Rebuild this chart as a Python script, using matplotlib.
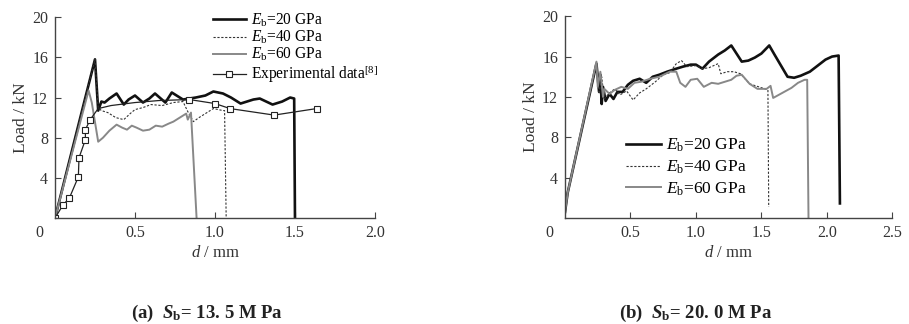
import matplotlib
matplotlib.use("Agg")
import matplotlib.pyplot as plt

plt.rcParams['font.family'] = ['Liberation Serif', 'DejaVu Serif']
plt.rcParams['mathtext.fontset'] = 'custom'
plt.rcParams['mathtext.rm'] = 'Liberation Serif'
plt.rcParams['mathtext.it'] = 'Liberation Serif:italic'
plt.rcParams['mathtext.bf'] = 'Liberation Serif:bold'
plt.rcParams['mathtext.bfit'] = 'Liberation Serif:italic:bold'

# (a) Sb = 13.5 MPa
x20a = [0, 0.25, 0.27, 0.29, 0.31, 0.34, 0.385, 0.43, 0.46, 0.5, 0.55, 0.59, 0.625, 0.69, 0.73,
        0.8, 0.88, 0.94, 0.99, 1.05, 1.1, 1.16, 1.2, 1.24, 1.28, 1.32, 1.36, 1.42, 1.47, 1.495, 1.5]
y20a = [0, 15.8, 10.7, 11.6, 11.5, 11.9, 12.4, 11.3, 11.8, 12.2, 11.5, 11.9, 12.4, 11.5, 12.5,
        11.8, 12.0, 12.2, 12.6, 12.4, 12.0, 11.4, 11.6, 11.8, 11.9, 11.6, 11.3, 11.6, 12.0, 11.9, 0]
x40a = [0, 0.25, 0.27, 0.29, 0.33, 0.38, 0.43, 0.47, 0.5, 0.55, 0.6, 0.67, 0.74, 0.8, 0.83,
        0.865, 0.9, 0.95, 0.99, 1.05, 1.06, 1.07]
y40a = [0, 15.8, 11.0, 10.7, 10.5, 10.0, 9.8, 10.4, 10.8, 11.0, 11.3, 11.2, 11.5, 11.6, 10.6,
        9.6, 10.0, 10.5, 10.9, 10.7, 10.7, 0]
x60a = [0, 0.21, 0.23, 0.27, 0.3, 0.34, 0.385, 0.42, 0.45, 0.48, 0.51, 0.55, 0.59, 0.63, 0.67,
        0.71, 0.74, 0.78, 0.82, 0.83, 0.85, 0.885]
y60a = [0, 12.7, 11.5, 7.6, 8.0, 8.7, 9.3, 9.0, 8.8, 9.2, 9.0, 8.7, 8.8, 9.2, 9.1,
        9.4, 9.6, 10.0, 10.4, 9.8, 10.5, 0]
xexp = [0, 0.05, 0.09, 0.146, 0.15, 0.19, 0.19, 0.22, 0.27, 0.35, 0.5, 0.65, 0.84, 1.0,
        1.094, 1.37, 1.635]
yexp = [0, 1.3, 2.0, 4.1, 6.0, 7.8, 8.8, 9.8, 10.9, 11.2, 11.5, 11.7, 11.8, 11.4,
        10.9, 10.25, 10.9]
exp_marked = [0, 1, 2, 3, 4, 5, 6, 7, 12, 13, 14, 15, 16]

# (b) Sb = 20.0 MPa
x20b = [0, 0.02, 0.24, 0.26, 0.27, 0.28, 0.29, 0.31, 0.34, 0.37, 0.4, 0.44, 0.48, 0.52, 0.57,
        0.62, 0.67, 0.72, 0.78, 0.85, 0.9, 0.96, 1.0, 1.05, 1.1, 1.17, 1.22, 1.27, 1.3, 1.35,
        1.4, 1.45, 1.5, 1.56, 1.6, 1.65, 1.7, 1.75, 1.8, 1.87, 1.93, 1.99, 2.04, 2.09, 2.1]
y20b = [0.6, 2.5, 15.3, 12.5, 14.2, 11.3, 13.0, 11.6, 12.3, 11.8, 12.5, 12.5, 13.2, 13.6, 13.8,
        13.4, 14.0, 14.2, 14.5, 14.8, 15.0, 15.2, 15.2, 14.8, 15.5, 16.2, 16.6, 17.1, 16.5, 15.5,
        15.6, 15.9, 16.3, 17.1, 16.2, 15.1, 14.0, 13.9, 14.1, 14.5, 15.1, 15.7, 16.0, 16.1, 1.45]
x40b = [0, 0.02, 0.24, 0.26, 0.28, 0.3, 0.34, 0.38, 0.42, 0.47, 0.52, 0.57, 0.62, 0.69, 0.75,
        0.8, 0.85, 0.89, 0.93, 1.0, 1.05, 1.1, 1.17, 1.19, 1.24, 1.29, 1.34, 1.41, 1.48, 1.55, 1.556]
y40b = [0.6, 2.5, 15.3, 12.3, 14.0, 11.8, 12.4, 12.8, 12.2, 12.6, 11.7, 12.4, 12.8, 13.5, 14.2,
        14.4, 15.3, 15.6, 15.0, 15.1, 14.8, 14.9, 15.3, 14.3, 14.5, 14.5, 14.3, 13.3, 13.0, 12.7, 1.1]
x60b = [0, 0.02, 0.24, 0.25, 0.27, 0.29, 0.3, 0.34, 0.38, 0.43, 0.48, 0.53, 0.58, 0.65, 0.72,
        0.8, 0.85, 0.88, 0.92, 0.96, 1.01, 1.06, 1.12, 1.17, 1.22, 1.27, 1.31, 1.35, 1.41, 1.47,
        1.54, 1.57, 1.59, 1.66, 1.73, 1.78, 1.83, 1.85, 1.86]
y60b = [0.6, 2.5, 15.5, 13.0, 14.5, 12.0, 12.8, 12.3, 12.7, 13.0, 12.8, 13.4, 13.5, 13.8, 14.0,
        14.5, 14.5, 13.4, 13.0, 13.7, 13.8, 13.0, 13.4, 13.3, 13.5, 13.7, 14.1, 14.2, 13.3, 12.8,
        12.8, 13.1, 11.9, 12.4, 12.9, 13.4, 13.7, 13.7, 0]

yticks = [4, 8, 12, 16, 20]
labels = [r'$E_{\rm b}$=20 GPa', r'$E_{\rm b}$=40 GPa', r'$E_{\rm b}$=60 GPa']

fig = plt.figure(figsize=(9.09, 3.24), dpi=100)
ax1 = fig.add_axes([0.0605, 0.327, 0.352, 0.620])
ax2 = fig.add_axes([0.6216, 0.327, 0.36, 0.623])


def style(ax, xmax, xticks):
    ax.set_xlim(0, xmax)
    ax.set_ylim(0, 20)
    for s in ['top', 'right']:
        ax.spines[s].set_visible(False)
    for s in ['left', 'bottom']:
        ax.spines[s].set_color('#444444')
        ax.spines[s].set_linewidth(1.0)
    ax.set_xticks(xticks)
    ax.set_yticks(yticks)
    ax.tick_params(direction='in', length=4, width=0.8, color='#444444',
                   labelsize=11.5, labelcolor='#333333', pad=5)
    ax.annotate('0', xy=(0, 0), xycoords='axes fraction', xytext=(-11, -5),
                textcoords='offset points', ha='center', va='top',
                fontsize=11.5, color='#333333')
    ax.set_xlabel(r'$d$ / mm', fontsize=12, labelpad=3, color='#333333')
    ax.set_ylabel('Load / kN', fontsize=12.5, labelpad=2, color='#333333')


c20, c40, c60 = '#111111', '#333333', '#888888'

ax1.plot(x20a, y20a, color=c20, lw=1.9, label=labels[0])
ax1.plot(x40a, y40a, color=c40, lw=0.8, ls=(0, (2, 1.5)), label=labels[1])
ax1.plot(x60a, y60a, color=c60, lw=1.4, label=labels[2])
ax1.plot(xexp, yexp, color='#222222', lw=0.9, marker='s', ms=5, mfc='white',
         mec='#222222', mew=0.8, markevery=exp_marked,
         label=r'Experimental data$^{\rm [8]}$')
style(ax1, 2.0, [0.5, 1.0, 1.5, 2.0])
ax1.legend(loc='upper left', bbox_to_anchor=(0.47, 1.065), frameon=False, fontsize=11.2,
           handlelength=2.1, handletextpad=0.35, labelspacing=-0.02, borderpad=0)

ax2.plot(x20b, y20b, color=c20, lw=1.9, label=labels[0])
ax2.plot(x40b, y40b, color=c40, lw=0.8, ls=(0, (2, 1.5)), label=labels[1])
ax2.plot(x60b, y60b, color=c60, lw=1.4, label=labels[2])
style(ax2, 2.5, [0.5, 1.0, 1.5, 2.0, 2.5])
ax2.legend(loc='upper left', bbox_to_anchor=(0.16, 0.445), frameon=False, fontsize=12.5,
           handlelength=2.0, handletextpad=0.3, labelspacing=0.25, borderpad=0)

fig.text(0.228, 0.034, r'(a)  $\mathbfit{S}_{\mathbf{b}}$= 13. 5 M Pa', ha='center',
         va='center', fontsize=13.5, fontweight='bold', color='#222222')
fig.text(0.765, 0.034, r'(b)  $\mathbfit{S}_{\mathbf{b}}$= 20. 0 M Pa', ha='center',
         va='center', fontsize=13.5, fontweight='bold', color='#222222')

fig.savefig('out.png', dpi=100)
